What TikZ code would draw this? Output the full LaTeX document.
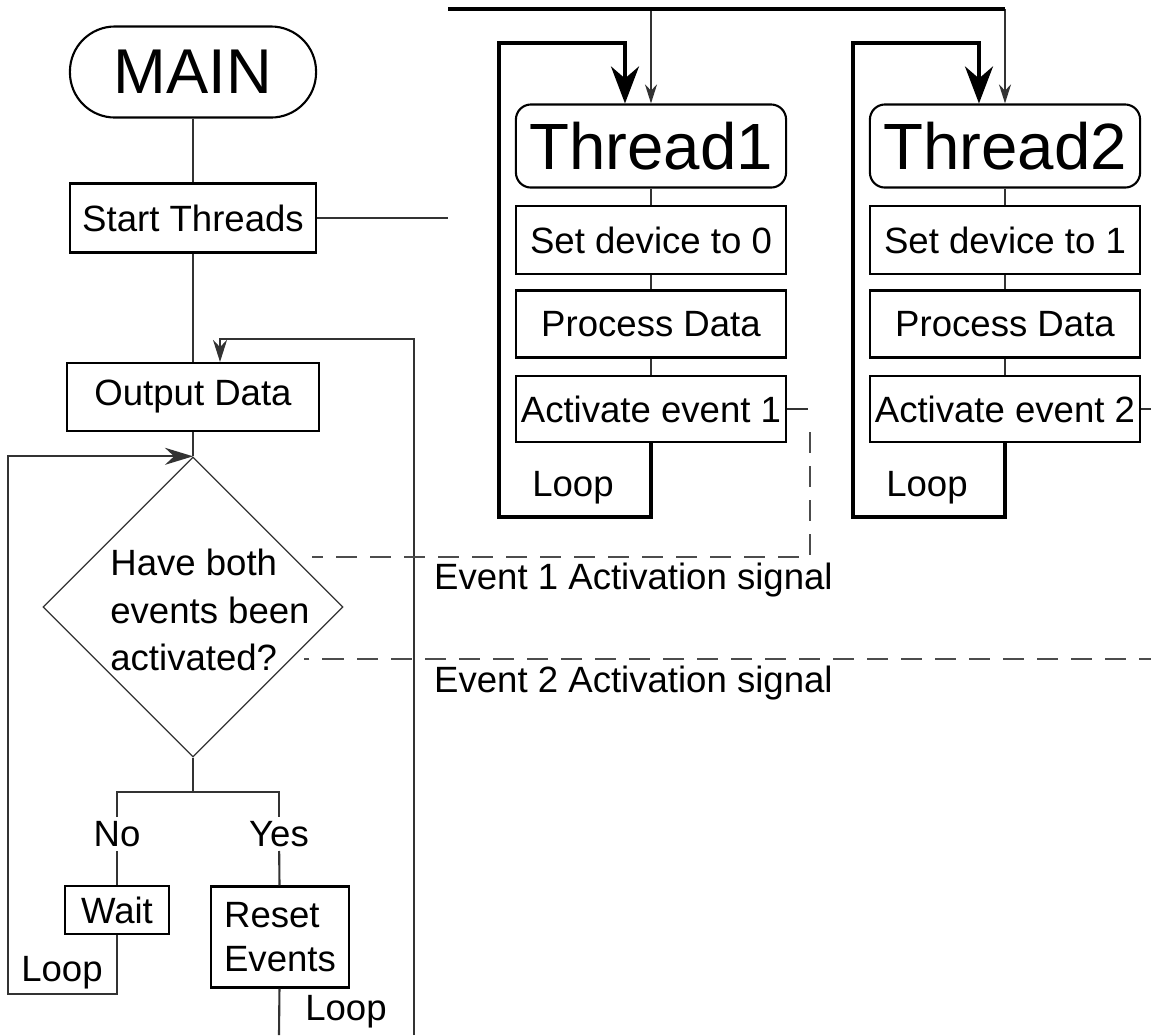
\documentclass[tikz,border=0pt]{standalone}
\usepackage{fontspec}
\setmainfont{Liberation Sans}
\usetikzlibrary{shapes.geometric,arrows.meta}

\tikzset{
  lbl/.style={font=\fontsize{10.4}{13.4}\selectfont, inner sep=1pt},
  box/.style={draw, line width=0.6pt, inner sep=0pt, font=\fontsize{10.4}{13.4}\selectfont},
  wire/.style={line width=0.6pt, black!80},
  heavy/.style={line width=1pt},
  signal/.style={line width=0.6pt, black!70, dash pattern=on 0.21cm off 0.13cm},
}

\begin{document}
\begin{tikzpicture}[x=0.01cm, y=-0.01cm]
\useasboundingbox (0,0) rectangle (1151,1035);

% main program
\node[box, rounded corners=0.45cm, minimum width=2.46cm, minimum height=0.91cm,
      font=\fontsize{18}{20}\selectfont] (main) at (193,72) {MAIN};
\node[box, minimum width=2.46cm, minimum height=0.69cm] (start) at (193,218) {Start Threads};
\node[box, minimum width=2.52cm, minimum height=0.68cm] (out) at (193,397) {Output Data};
\node[draw, diamond, line width=0.35pt, black!80, inner sep=0pt,
      minimum width=3cm, minimum height=3cm] (check) at (193,607) {};
\node[lbl, align=left] (ask) at (210,610) {Have both\\events been\\activated?};
\coordinate (fork) at (193,792);
\node[lbl] (no) at (117,834) {No};
\node[lbl] (yes) at (279,834) {Yes};
\node[box, minimum width=1.04cm, minimum height=0.48cm] (wait) at (117,910) {Wait};
\node[box, minimum width=1.38cm, minimum height=1.01cm, align=left,
      font=\fontsize{10.4}{12.4}\selectfont] (reset) at (280,937) {Reset\\Events};
\node[lbl] (loopa) at (62,973) {Loop};
\node[lbl] (loopb) at (346,1012) {Loop};

\coordinate (waitturn) at (8,994);
\coordinate (resetend) at (279,1035);
\coordinate (backup) at (414,1035);
\coordinate (backtop) at (414,339);
\coordinate (stub) at (448,218);

\draw[wire] (main) -- (start);
\draw[wire] (start) -- (out);
\draw[wire] (out) -- (check);
\draw[wire] (check) -- (fork);
\draw[wire] (no.north) |- (fork) -| (yes.north);
\draw[wire] (no) -- (wait);
\draw[wire] (yes) -- (reset);
\draw[wire, -{Stealth[length=0.28cm,width=0.17cm]}] (wait.south) |- (waitturn) |- (check.north);
\draw[wire] (reset) -- (resetend);
\draw[wire, -{Stealth[length=0.22cm,width=0.14cm]}] (backup) -- (backtop) -| ([xshift=0.27cm]out.north);
\draw[wire] (start) -- (stub);

% threads
\coordinate (top) at (448,9);
\foreach \c/\n/\d in {651/1/0,1005/2/1}{
  \node[box, rounded corners=0.15cm, minimum width=2.7cm, minimum height=0.83cm,
        font=\fontsize{18.6}{20}\selectfont] (th\n) at (\c,146) {Thread\n};
  \node[box, minimum width=2.7cm, minimum height=0.68cm] (set\n) at (\c,240) {Set device to \d};
  \node[box, minimum width=2.7cm, minimum height=0.67cm] (proc\n) at (\c,324) {Process Data};
  \node[box, minimum width=2.7cm, minimum height=0.66cm] (act\n) at (\c,409) {Activate event \n};
  \node[lbl] (loop\n) at ({\c-78},488) {Loop};

  \draw[wire] (th\n) -- (set\n);
  \draw[wire] (set\n) -- (proc\n);
  \draw[wire] (proc\n) -- (act\n);
  \draw[wire] (act\n.east) -- ++(21,0);
  \draw[heavy, -{Stealth[length=0.37cm,width=0.28cm]}] (act\n.south) |- ({\c-152},517)
        -- ({\c-152},43) -| ([xshift=-0.26cm]th\n.north);
  \draw[wire, -{Stealth[length=0.19cm,width=0.12cm]}] (top -| th\n.north) -- (th\n.north);
}
\draw[heavy] (top) -- (top -| th2.north);

% activation signals
\coordinate (sig1) at (810,432);
\coordinate (sig1turn) at (810,557);
\coordinate (sig1end) at (312,557);
\coordinate (sig2) at (1160,659);
\coordinate (sig2end) at (304,659);
\draw[signal] (sig1) -- (sig1turn) -- (sig1end);
\draw[signal] (sig2) -- (sig2end);
\node[lbl, anchor=west] (ev1) at (430,580) {Event 1 Activation signal};
\node[lbl, anchor=west] (ev2) at (430,683) {Event 2 Activation signal};
\end{tikzpicture}
\end{document}
